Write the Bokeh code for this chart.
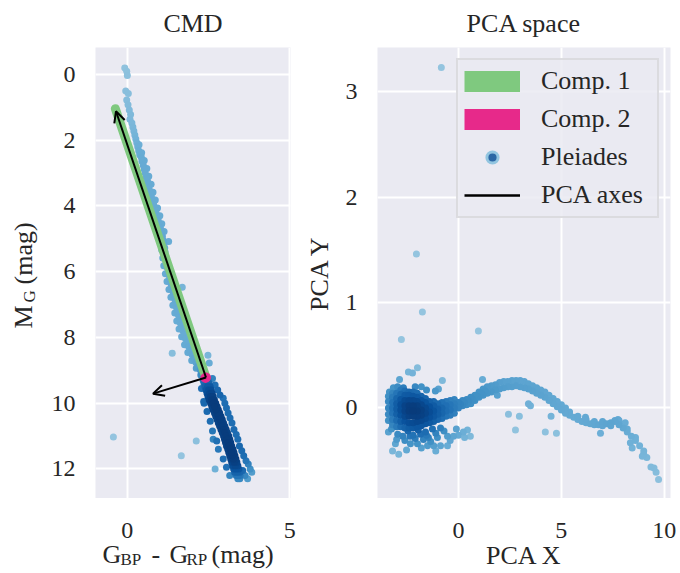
import numpy as np
from bokeh.plotting import figure
from bokeh.layouts import row, column
from bokeh.models import (Range1d, FixedTicker, Label, Arrow, OpenHead, Legend,
                          LegendItem, ColumnDataSource)
from bokeh.embed import file_html
from bokeh.resources import INLINE

# ---------------- data: CMD panel ----------------
# upper main sequence (sparse part + ridge)
cmd_upper_bp_rp = [-0.08, -0.02, 0.00, -0.05, 0.03, -0.02, 0.02, 0.06, 0.10, 0.08,
                   0.14, 0.17, 0.20, 0.23, 0.26, 0.29, 0.32, 0.35, 0.38, 0.43,
                   0.45, 0.49, 0.52, 0.55, 0.58, 0.62, 0.64, 0.67, 0.71, 0.74,
                   0.77, 0.81, 0.84, 0.88, 0.91, 0.95, 0.98, 1.02, 1.05, 1.08,
                   1.10, 1.13, 1.15, 1.16, 1.18, 1.20, 1.21, 1.23, 1.26, 1.29,
                   1.31, 1.34, 1.37, 1.40, 1.43, 1.46, 1.48, 1.51, 1.54, 1.57,
                   1.60, 1.63, 1.67, 1.71, 1.75, 1.79, 1.84, 1.89, 1.94, 1.99,
                   2.05, 2.11, 2.17, 2.24, 2.31, 2.37,
                   1.02, 1.06, 1.09, 1.12, 1.17, 1.22, 1.28, 1.34, 1.40, 1.46,
                   1.52, 1.59, 1.67, 1.76, 1.86, 1.98, 2.12, 2.26,
                   0.36, 0.44, 0.52, 0.60, 0.66, 0.73, 0.79, 0.86, 0.93, 1.00,
                   1.06, 1.13]
cmd_upper_mg = [-0.20, -0.10, 0.03, 0.50, 0.58, 0.78, 0.92, 1.08, 1.22, 1.36,
                1.48, 1.60, 1.72, 1.84, 1.96, 2.08, 2.20, 2.32, 2.44, 2.52,
                2.64, 2.76, 2.88, 3.00, 3.12, 3.24, 3.36, 3.48, 3.60, 3.72,
                3.84, 3.96, 4.08, 4.20, 4.32, 4.44, 4.56, 4.68, 4.80, 4.92,
                5.04, 5.16, 5.28, 5.40, 5.52, 5.64, 5.76, 5.88, 6.00, 6.12,
                6.24, 6.36, 6.48, 6.60, 6.72, 6.84, 6.96, 7.08, 7.20, 7.32,
                7.44, 7.56, 7.68, 7.80, 7.92, 8.04, 8.16, 8.28, 8.40, 8.52,
                8.64, 8.76, 8.88, 8.98, 9.08, 9.18,
                5.10, 5.34, 5.58, 5.82, 6.06, 6.30, 6.54, 6.78, 7.02, 7.26,
                7.50, 7.74, 7.98, 8.22, 8.46, 8.70, 8.94, 9.14,
                2.14, 2.38, 2.62, 2.86, 3.10, 3.34, 3.58, 3.82, 4.06, 4.30,
                4.54, 4.78]

# lower main sequence (dense band), one row per magnitude
cmd_lower_mg = [9.3, 9.4, 9.5, 9.6, 9.7, 9.8, 9.9, 10.0, 10.1, 10.2, 10.3, 10.4,
                10.5, 10.6, 10.7, 10.8, 10.9, 11.0, 11.1, 11.2, 11.3, 11.4, 11.5,
                11.6, 11.7, 11.8, 11.9, 12.0, 12.1, 12.2, 12.3]
cmd_lower_bp_rp = [[2.33, 2.41, 2.49], [2.36, 2.44, 2.52], [2.39, 2.47, 2.55],
                   [2.42, 2.50, 2.58], [2.45, 2.53, 2.61], [2.48, 2.56, 2.64],
                   [2.52, 2.60, 2.68], [2.56, 2.64, 2.72], [2.60, 2.68, 2.76],
                   [2.64, 2.72, 2.80], [2.68, 2.76, 2.84], [2.72, 2.80, 2.88],
                   [2.76, 2.84, 2.92], [2.80, 2.88, 2.96], [2.84, 2.92, 3.00],
                   [2.88, 2.96, 3.04], [2.92, 3.00, 3.08], [2.96, 3.04, 3.12],
                   [2.99, 3.07, 3.15], [3.02, 3.10, 3.18], [3.05, 3.13, 3.21],
                   [3.09, 3.17, 3.25], [3.12, 3.20, 3.28], [3.15, 3.23, 3.31],
                   [3.18, 3.26, 3.34], [3.21, 3.29, 3.37], [3.24, 3.32, 3.40],
                   [3.27, 3.35, 3.43], [3.30, 3.38, 3.46], [3.35, 3.41, 3.47],
                   [3.40, 3.46]]

# spread around the lower band and isolated stars
cmd_scatter_bp_rp = [2.62, 2.70, 2.78, 2.85, 2.95, 3.00, 3.05, 3.10, 3.16, 3.22,
                     3.28, 3.35, 3.40, 3.45, 3.52, 3.58, 3.65, 3.72, 3.78, 3.83,
                     3.70, 3.62, 3.55,
                     2.28, 2.35, 2.45, 2.55, 2.62, 2.75, 2.80, 2.95, 3.05, 2.70, 3.15,
                     -0.43, 1.38, 1.66, 2.12, 2.48, 2.52, 1.27, 1.69, 2.64, 2.36]
cmd_scatter_mg = [9.25, 9.45, 9.60, 9.75, 9.85, 10.00, 10.15, 10.30, 10.45, 10.60,
                  10.80, 10.95, 11.10, 11.30, 11.45, 11.60, 11.75, 11.85, 12.00, 12.10,
                  12.30, 12.20, 12.05,
                  9.55, 9.95, 10.25, 10.55, 10.85, 11.15, 11.40, 11.70, 11.95, 12.00, 12.20,
                  11.03, 8.48, 11.60, 11.15, 8.54, 8.78, 5.08, 6.47, 11.10, 10.00]

# PCA components drawn in the CMD
pca_mean = [2.42, 9.22]
comp1_end = [-0.37, 1.04]
comp2_end = [2.40, 9.23]
axis1_tip = [-0.35, 1.12]
axis2_tip = [0.79, 9.71]

# ---------------- data: PCA panel ----------------
pca_cluster_x = [-3.4, -3.2, -3.0, -2.8, -2.6, -2.4, -2.2, -2.0, -1.8, -1.6, -1.4,
                 -1.2, -1.0, -0.8, -0.6, -0.4, -0.2]
pca_cluster_y = [[-0.12, -0.06, 0.00, 0.06, 0.11],
                 [-0.16, -0.11, -0.05, 0.00, 0.05, 0.10, 0.14],
                 [-0.18, -0.12, -0.06, -0.01, 0.04, 0.09, 0.14],
                 [-0.18, -0.13, -0.07, -0.02, 0.03, 0.08, 0.13, 0.17],
                 [-0.19, -0.13, -0.08, -0.03, 0.02, 0.07, 0.12, 0.16],
                 [-0.19, -0.14, -0.08, -0.03, 0.02, 0.07, 0.12, 0.15],
                 [-0.19, -0.14, -0.08, -0.03, 0.02, 0.07, 0.11, 0.15],
                 [-0.18, -0.13, -0.08, -0.03, 0.02, 0.06, 0.10, 0.14],
                 [-0.17, -0.12, -0.07, -0.02, 0.03, 0.07, 0.11],
                 [-0.15, -0.10, -0.05, 0.00, 0.05, 0.09],
                 [-0.14, -0.09, -0.04, 0.01, 0.06],
                 [-0.13, -0.08, -0.03, 0.02, 0.06],
                 [-0.11, -0.06, -0.01, 0.04],
                 [-0.10, -0.05, 0.00, 0.05],
                 [-0.08, -0.03, 0.02, 0.06],
                 [-0.07, -0.02, 0.03, 0.07],
                 [-0.05, 0.00, 0.04, 0.08]]

pca_curve_x = [0.0, 0.0, 0.1, 0.2, 0.2, 0.3, 0.4, 0.4, 0.5, 0.6, 0.6, 0.7, 0.8, 0.8,
               0.9, 1.0, 1.0, 1.1, 1.2, 1.2, 1.3, 1.4, 1.4, 1.6, 1.6, 1.8, 1.8,
               2.0, 2.0, 2.2, 2.2, 2.4, 2.4, 2.6, 2.6, 2.8, 2.8, 3.0, 3.0, 3.2, 3.2,
               3.4, 3.4, 3.6, 3.6, 3.8, 3.8, 4.0, 4.0, 4.2, 4.2, 4.4, 4.4, 4.6, 4.6,
               4.8, 4.8, 5.0, 5.0, 5.2, 5.2, 5.4, 5.4, 5.6, 5.8, 5.8, 6.0, 6.2, 6.2,
               6.4, 6.6, 6.6, 6.8, 7.0, 7.0, 7.2, 7.4, 7.4, 7.6, 7.8, 7.8, 8.0,
               8.2, 8.2, 8.4, 8.6, 8.6, 8.8, 9.0, 9.0, 9.15, 9.35, 9.5, 9.6, 9.72]
pca_curve_y = [0.00, 0.05, 0.035, 0.02, 0.07, 0.05, 0.03, 0.08, 0.065, 0.04, 0.10,
               0.08, 0.07, 0.12, 0.11, 0.10, 0.15, 0.14, 0.12, 0.18, 0.16, 0.14,
               0.20, 0.15, 0.21, 0.17, 0.22, 0.18, 0.24, 0.19, 0.25, 0.20, 0.25,
               0.20, 0.26, 0.21, 0.26, 0.20, 0.26, 0.19, 0.25, 0.18, 0.23, 0.16,
               0.21, 0.14, 0.19, 0.12, 0.17, 0.10, 0.15, 0.07, 0.12, 0.04, 0.09,
               0.01, 0.06, -0.02, 0.03, -0.05, 0.00, -0.07, -0.04, -0.09, -0.11,
               -0.08, -0.13, -0.14, -0.11, -0.15, -0.16, -0.13, -0.16, -0.17,
               -0.13, -0.15, -0.14, -0.17, -0.13, -0.16, -0.12, -0.19, -0.23,
               -0.20, -0.27, -0.31, -0.28, -0.36, -0.41, -0.44, -0.47, -0.56,
               -0.57, -0.61, -0.68]

pca_scatter_x = [-3.40, -3.20, -2.90, -3.06, -2.52, -2.33, -1.99, -1.50, -1.20, -0.87,
                 -0.53, -1.46, -1.02, -0.53, -0.24, 0.00, 0.24, 0.44, 0.58, -1.84,
                 -1.60, -1.26, -0.87, -2.70, -2.20, -2.95, -1.70, -1.35, -1.10, -2.45,
                 -3.25, -1.95, -0.70,
                 -3.00, -2.60, -2.10, -1.80, -1.10, -0.40, -0.10, 0.30, -2.35, -1.55,
                 -2.43, -2.23, -1.99, -2.86, -0.78, -1.12, -0.97, -3.16, -2.67, -3.35,
                 -2.95, -1.55, -1.80, -2.10,
                 -1.75, -2.77, 0.97, -0.83, -2.04, 1.17,
                 2.43, 2.96, 2.77, 4.22, 4.76, 4.50, 3.40, 3.50, 1.89, 6.90, 8.35,
                 8.44, 8.93, 6.17, 7.60, 7.75, 8.10]
pca_scatter_y = [-0.23, -0.41, -0.44, -0.34, -0.40, -0.34, -0.34, -0.36, -0.36, -0.36,
                 -0.36, -0.28, -0.28, -0.27, -0.27, -0.26, -0.23, -0.21, -0.27, -0.25,
                 -0.23, -0.20, -0.19, -0.27, -0.26, -0.25, -0.30, -0.32, -0.24, -0.22,
                 -0.20, -0.21, -0.22,
                 -0.30, -0.31, -0.29, -0.38, -0.41, -0.31, -0.20, -0.28, -0.27, -0.26,
                 0.34, 0.33, 0.38, 0.27, 0.26, 0.16, 0.18, 0.19, 0.19, 0.15,
                 0.20, 0.17, 0.20, 0.20,
                 0.91, 0.65, 0.73, 3.23, 1.46, 0.27,
                 -0.06, -0.08, -0.21, -0.23, -0.24, -0.08, 0.04, 0.02, 0.12, -0.24, -0.33,
                 -0.38, -0.46, -0.09, -0.12, -0.11, -0.14]

cmd_xticks = [0, 5]
cmd_yticks = [0, 2, 4, 6, 8, 10, 12]
pca_xticks = [0, 5, 10]
pca_yticks = [0, 1, 2, 3]
legend_labels = ["Comp. 1", "Comp. 2", "Pleiades", "PCA axes"]

# ---------------- styling ----------------
FONT = "Liberation Serif"
INK = "#262626"
BG = "#eaeaf2"
GREEN = "#7fc97f"
PINK = "#e7298a"
BLUES = ["#f7fbff", "#deebf7", "#c6dbef", "#9ecae1", "#6baed6",
         "#4292c6", "#2171b5", "#08519c", "#08306b"]
NAN = float("nan")


def blues(t):
    t = np.clip(np.asarray(t, float), 0, 1) * 8
    i = np.minimum(t.astype(int), 7)
    f = t - i
    rgb = np.array([[int(c[k:k + 2], 16) for k in (1, 3, 5)] for c in BLUES], float)
    col = rgb[i] * (1 - f)[:, None] + rgb[i + 1] * f[:, None]
    return ["#%02x%02x%02x" % tuple(int(round(v)) for v in c) for c in col]


def density_source(xs, ys, sx, sy, gamma, bw=12.0):
    x = np.asarray(xs, float)
    y = np.asarray(ys, float)
    X, Y = x * sx, y * sy
    d2 = (X[:, None] - X[None, :]) ** 2 + (Y[:, None] - Y[None, :]) ** 2
    dens = np.exp(-0.5 * d2 / bw ** 2).sum(axis=1)
    t = (dens - dens.min()) / (dens.max() - dens.min())
    order = np.argsort(t)
    return ColumnDataSource(dict(x=x[order], y=y[order],
                                 c=blues(0.40 + 0.56 * t[order] ** gamma)))


def style(p, xt, yt):
    p.background_fill_color = BG
    p.border_fill_color = "white"
    p.outline_line_color = None
    p.title.align = "center"
    p.title.vertical_align = "top"
    p.title.text_font = FONT
    p.title.text_font_size = "26px"
    p.title.text_font_style = "normal"
    p.title.text_color = INK
    p.title.standoff = 16
    p.xaxis.ticker = FixedTicker(ticks=xt)
    p.yaxis.ticker = FixedTicker(ticks=yt)
    for ax in [*p.xaxis, *p.yaxis]:
        ax.axis_line_color = None
        ax.major_tick_line_color = None
        ax.minor_tick_line_color = None
        ax.major_tick_out = 0
        ax.major_tick_in = 0
        ax.minor_tick_out = 0
        ax.minor_tick_in = 0
        ax.major_label_text_font = FONT
        ax.major_label_text_font_size = "24px"
        ax.major_label_text_color = INK
        ax.axis_label_text_font = FONT
        ax.axis_label_text_font_size = "26px"
        ax.axis_label_text_font_style = "normal"
        ax.axis_label_text_color = INK
    p.yaxis.major_label_standoff = 20
    p.grid.grid_line_color = "white"
    p.grid.grid_line_width = 2


def helper(w, h, xr, yr, **kw):
    f = figure(width=w, height=h, x_range=Range1d(*xr), y_range=Range1d(*yr),
               x_axis_type=None, y_axis_type=None, toolbar_location=None,
               output_backend="svg", title=None, **kw)
    f.outline_line_color = None
    f.background_fill_color = "white"
    f.border_fill_color = "white"
    return f


def text(f, x, y, s, size=26, angle=0.0, align="left"):
    # y (or x for rotated text) is the visual middle of the glyphs
    f.add_layout(Label(x=x, y=y, text=s, text_font=FONT, text_font_size=f"{size}px",
                       text_color=INK, text_align=align, text_baseline="middle",
                       angle=angle))


FH = 451
TOP = 47
FBOT = TOP + FH  # 498
PAGE_H = 573
PAGE_W = 680
P1_LEFT, P1_W = 95, 195
P2_LEFT, P2_W = 377, 293

# ---------------- left: CMD ----------------
x1r = (-0.98, 5.02)
y1r = (12.9, -0.82)
p1 = figure(frame_width=P1_W, frame_height=FH, x_range=Range1d(*x1r), y_range=Range1d(*y1r),
            output_backend="svg", toolbar_location=None, title="CMD",
            min_border_left=0, min_border_right=10, min_border_top=TOP, min_border_bottom=0)
style(p1, cmd_xticks, cmd_yticks)
p1.xaxis.visible = False
p1.yaxis.visible = False

lx = [v for r in cmd_lower_bp_rp for v in r]
ly = [m for m, r in zip(cmd_lower_mg, cmd_lower_bp_rp) for _ in r]
cx = cmd_upper_bp_rp + lx + cmd_scatter_bp_rp
cy = cmd_upper_mg + ly + cmd_scatter_mg
assert len(cx) == len(cy)
src1 = density_source(cx, cy, P1_W / (x1r[1] - x1r[0]), FH / abs(y1r[1] - y1r[0]), 1.4)
p1.scatter("x", "y", source=src1, size=7, fill_color="c", line_color=None)

p1.line(x=[pca_mean[0], comp1_end[0]], y=[pca_mean[1], comp1_end[1]],
        line_color=GREEN, line_width=9, line_cap="round")
p1.line(x=[pca_mean[0], comp2_end[0]], y=[pca_mean[1], comp2_end[1]],
        line_color=PINK, line_width=10, line_cap="round")
for tip in (axis1_tip, axis2_tip):
    p1.add_layout(Arrow(end=OpenHead(size=11, line_width=2, line_color="black"),
                        x_start=pca_mean[0], y_start=pca_mean[1], x_end=tip[0], y_end=tip[1],
                        line_width=2, line_color="black"))

# left strip (page-pixel coordinates): CMD y tick labels and the y-axis label with subscript
ylab = helper(P1_LEFT, FBOT, (0, P1_LEFT), (FBOT, TOP),
              min_border_left=0, min_border_right=0, min_border_top=TOP, min_border_bottom=0)
for t in cmd_yticks:
    ypix = TOP + (t - y1r[1]) / (y1r[0] - y1r[1]) * FH
    text(ylab, P1_LEFT - 20, ypix, str(t), size=24, align="right")
text(ylab, 23.4, 328, "M", angle=np.pi / 2)
text(ylab, 29.3, 302, "G", size=17, angle=np.pi / 2)
text(ylab, 23.4, 284, "(mag)", angle=np.pi / 2)

# ---------------- right: PCA space ----------------
x2r = (-3.93, 10.3)
y2r = (-0.86, 3.42)
p2 = figure(frame_width=P2_W, frame_height=FH, x_range=Range1d(*x2r), y_range=Range1d(*y2r),
            output_backend="svg", toolbar_location=None, title="PCA space",
            y_axis_label="PCA Y",
            min_border_left=P2_LEFT - 300, min_border_right=2, min_border_top=TOP,
            min_border_bottom=0)
style(p2, pca_xticks, pca_yticks)
p2.xaxis.visible = False
p2.yaxis.axis_label_standoff = 9

kx = [xv for xv, col in zip(pca_cluster_x, pca_cluster_y) for _ in col]
ky = [v for col in pca_cluster_y for v in col]
px = kx + pca_curve_x + pca_scatter_x
py = ky + pca_curve_y + pca_scatter_y
assert len(px) == len(py)
src2 = density_source(px, py, P2_W / (x2r[1] - x2r[0]), FH / (y2r[1] - y2r[0]), 1.2)
p2.scatter("x", "y", source=src2, size=7, fill_color="c", line_color=None)

r_c1 = p2.line(x=[NAN], y=[NAN], line_color=GREEN, line_width=21)
r_c2 = p2.line(x=[NAN], y=[NAN], line_color=PINK, line_width=21)
r_pl = p2.scatter(x=[NAN], y=[NAN], size=12, fill_color="#2b67a5",
                  line_color="#92c5e0", line_width=3)
r_ax = p2.line(x=[NAN], y=[NAN], line_color="black", line_width=2.5)
legend = Legend(items=[LegendItem(label=l, renderers=[r])
                       for l, r in zip(legend_labels, [r_c1, r_c2, r_pl, r_ax])],
                location="top_right", margin=11, padding=6, spacing=8,
                glyph_width=56, glyph_height=28, label_standoff=21, label_width=110,
                label_text_font=FONT, label_text_font_size="26px", label_text_color=INK,
                border_line_color="#cccccc", border_line_width=2,
                background_fill_color=BG, background_fill_alpha=0.85)
p2.add_layout(legend)

# bottom strip (page-pixel coordinates): x tick labels and x-axis labels of both panels
bottom = helper(PAGE_W, PAGE_H - FBOT, (0, PAGE_W), (PAGE_H, FBOT), min_border=0)
for t in cmd_xticks:
    xpix = P1_LEFT + (t - x1r[0]) / (x1r[1] - x1r[0]) * P1_W
    text(bottom, xpix, 529.5, str(t), size=24, align="center")
for t in pca_xticks:
    xpix = P2_LEFT + (t - x2r[0]) / (x2r[1] - x2r[0]) * P2_W
    text(bottom, xpix, 529.5, str(t), size=24, align="center")
text(bottom, 102, 553.5, "G")
text(bottom, 120, 559.3, "BP", size=17)
text(bottom, 151, 553.5, "-")
text(bottom, 169, 553.5, "G")
text(bottom, 186, 559.3, "RP", size=17)
text(bottom, 211, 553.5, "(mag)")
text(bottom, P2_LEFT + P2_W / 2, 555, "PCA X", align="center")

layout = column(row(ylab, p1, p2), bottom)
open("out.html", "w").write(file_html(layout, INLINE))
